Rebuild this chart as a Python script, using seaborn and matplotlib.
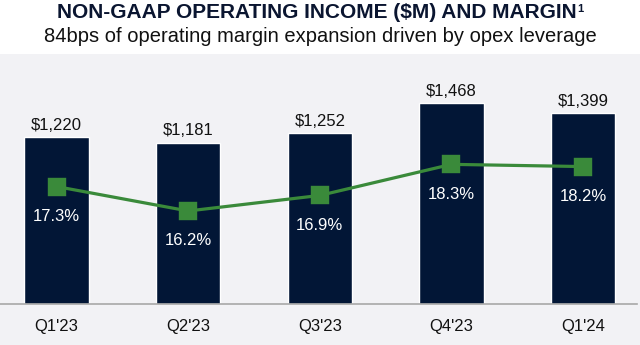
import matplotlib
matplotlib.use("Agg")
import matplotlib.pyplot as plt
import seaborn as sns
from matplotlib.patches import Rectangle

quarters = ["Q1'23", "Q2'23", "Q3'23", "Q4'23", "Q1'24"]
income = [1220, 1181, 1252, 1468, 1399]
margin = [17.3, 16.2, 16.9, 18.3, 18.2]

navy = "#021636"
green = "#3a8a3a"
bg = "#f2f2f5"

sns.set_theme(style="white")
plt.rcParams['font.family'] = ['Liberation Sans', 'DejaVu Sans']

fig = plt.figure(figsize=(6.4, 3.45), dpi=100)
fig.patch.set_facecolor("white")
fig.add_artist(Rectangle((0, 0), 1, (345 - 54) / 345, transform=fig.transFigure,
                         facecolor=bg, edgecolor="none", zorder=0))

ax = fig.add_axes([0, (345 - 304) / 345, 637 / 640, (304 - 60) / 345])
ax.set_facecolor("none")
sns.barplot(x=quarters, y=income, color=navy, width=0.49, saturation=1, ax=ax, zorder=2)
ax.set_ylim(0, 1785)
ax.bar_label(ax.containers[0], labels=[f"${v:,}" for v in income], padding=3,
             fontsize=12, color="#111111")

ax2 = ax.twinx()
sns.pointplot(x=quarters, y=margin, ax=ax2, color=green, markers="s",
              markersize=12, linewidth=2.3, errorbar=None, zorder=3)
ax2.set_ylim(12.01, 23.0)
for i, m in enumerate(margin):
    ax2.annotate(f"{m:.1f}%", (i, m), xytext=(0, -21.5), textcoords="offset points",
                 ha="center", va="center", color="white", fontsize=12)

for a in (ax, ax2):
    a.set_xlim(-0.43, 4.41)
    a.set_yticks([])
    a.set_ylabel("")
    for s in a.spines.values():
        s.set_visible(False)
ax.spines["bottom"].set_visible(True)
ax.spines["bottom"].set_color("#a8a8a8")
ax.spines["bottom"].set_linewidth(1.2)
ax.tick_params(axis="x", length=0, pad=11, labelsize=12, labelcolor="#111111")
ax2.tick_params(axis="x", length=0)

title = fig.text(0.495, 1 - 12 / 345, "NON-GAAP OPERATING INCOME ($M) AND MARGIN",
                 ha="center", va="center", fontsize=15, fontweight="bold", color="#0a1530")
fig.canvas.draw()
bb = title.get_window_extent()
fig.text((bb.x1 + 1) / 640, (bb.y1 - 1) / 345, "1", ha="left", va="top",
         fontsize=8, fontweight="bold", color="#0a1530")
fig.text(0.5, 1 - 37 / 345, "84bps of operating margin expansion driven by opex leverage",
         ha="center", va="center", fontsize=14.5, color="#111111")

fig.savefig("out.png", dpi=100, facecolor=fig.get_facecolor())
